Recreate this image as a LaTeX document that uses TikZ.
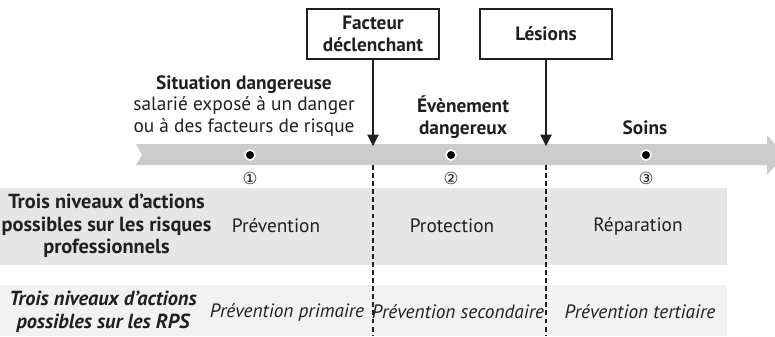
\documentclass[tikz,border=0pt]{standalone}
\usepackage{fontspec}
\setmainfont{PT Sans}
\newfontfamily\circfont{DejaVu Sans}
\usetikzlibrary{arrows.meta}

\definecolor{bandgray}{HTML}{CCCCCC}
\definecolor{rowdark}{HTML}{E6E6E6}
\definecolor{rowlight}{HTML}{F2F2F2}
\definecolor{ink}{HTML}{231F20}

\begin{document}
\begin{tikzpicture}[x=0.02cm, y=-0.02cm, text=ink,
    font=\fontsize{11}{12.5}\selectfont,
    eventbox/.style={draw=ink, line width=0.6pt, minimum width=2.64cm, minimum height=1cm,
      align=center, font=\fontsize{11}{12.5}\selectfont\bfseries},
    drop/.style={draw=ink, line width=0.6pt, -{Triangle[width=6.5pt,length=6.5pt]}},
    cutline/.style={draw=ink, line width=0.6pt, dash pattern=on 2.8pt off 1.8pt},
    stepdot/.style={circle, fill=black, draw=white, line width=0.9pt, inner sep=0pt, minimum size=0.2cm},
    rowlabel/.style={align=center, font=\fontsize{11.6}{12.8}\selectfont\bfseries},
    rpstext/.style={font=\fontsize{11}{12.5}\selectfont\itshape}]
    \useasboundingbox (0,0) rectangle (775,336);

    % Rows
    \fill[rowdark] (0,188) rectangle (727,265);
    \fill[rowlight] (0,285) rectangle (727,336);

    % Time band
    \fill[bandgray] (136,144) -- (767,144) -- (767,135) -- (785,155) -- (767,175)
      -- (767,165) -- (136,165) -- (142,155) -- cycle;
    \coordinate (bandtop) at (0,146);
    \coordinate (bandbot) at (0,165);
    \coordinate (floor) at (0,336);

    % Steps on the band
    \foreach \x/\n/\c in {250/one/①, 451/two/②, 646/three/③} {
      \node[stepdot] (dot\n) at (\x,155) {};
      \node[font=\circfont\fontsize{9.5}{10}\selectfont] (num\n) at (\x,178) {\c};
    }

    % Triggers
    \node[eventbox] (facteur) at (373,34) {Facteur\\déclenchant};
    \node[eventbox] (lesions) at (546,34) {Lésions};
    \draw[drop] (facteur) -- (facteur |- bandtop);
    \draw[drop] (lesions) -- (lesions |- bandtop);
    \draw[cutline] (facteur |- bandbot) -- (facteur |- floor);
    \draw[cutline] (lesions |- bandbot) -- (lesions |- floor);

    % Phases
    \node[align=center] (situation) at (244,106)
      {\textbf{Situation dangereuse}\\salarié exposé à un danger\\ou à des facteurs de risque};
    \node[align=center, font=\fontsize{11}{12.5}\selectfont\bfseries] (evenement) at (463,117)
      {Évènement\\dangereux};
    \node[font=\fontsize{11}{12.5}\selectfont\bfseries] (soins) at (645,128) {Soins};

    % Risques professionnels
    \node[rowlabel] (risques) at (106.5,226)
      {Trois niveaux d’actions\\possibles sur les risques\\professionnels};
    \node (prevention) at (276,226) {Prévention};
    \node (protection) at (452,226) {Protection};
    \node (reparation) at (638,226) {Réparation};

    % RPS
    \node[rowlabel, font=\fontsize{11.6}{12.8}\selectfont\bfseries\itshape] (rps) at (103,312)
      {Trois niveaux d’actions\\possibles sur les RPS};
    \node[rpstext] (primaire) at (287,312) {Prévention primaire};
    \node[rpstext] (secondaire) at (458,312) {Prévention secondaire};
    \node[rpstext] (tertiaire) at (640,312) {Prévention tertiaire};
  \end{tikzpicture}
\end{document}
